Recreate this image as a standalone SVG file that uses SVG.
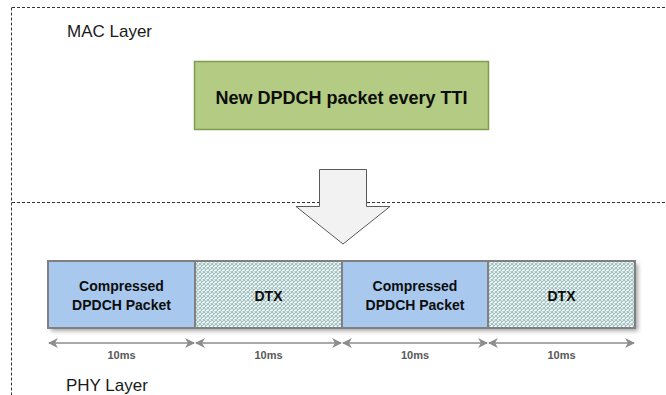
<svg xmlns="http://www.w3.org/2000/svg" width="666" height="395" viewBox="0 0 666 395">
<style>
.dash{stroke:#333333;stroke-width:1;stroke-dasharray:3 2;fill:none}
.layer{font-family:"Liberation Sans",Arial,sans-serif;font-size:17px;fill:#1a1a1a}
.bold{font-family:"Liberation Sans",Arial,sans-serif;font-weight:bold;fill:#0d0d0d;text-anchor:middle}
.seg{stroke:#808080;stroke-width:2}
.dim{stroke:#8c8c8c;stroke-width:1.6;fill:none;marker-start:url(#ah);marker-end:url(#ah)}
.ms{font-family:"Liberation Sans",Arial,sans-serif;font-weight:bold;font-size:11px;fill:#595959;text-anchor:middle}
</style>
<defs>
<pattern id="dots" width="4" height="4" patternUnits="userSpaceOnUse">
<rect width="4" height="4" fill="#ffffff"/>
<path d="M0 0L4 4M4 0L0 4" stroke="#9fc0c0" stroke-width="1.2"/>
</pattern>
<marker id="ah" viewBox="0 0 10 10" refX="9" refY="5" markerWidth="10" markerHeight="10" markerUnits="userSpaceOnUse" orient="auto-start-reverse">
<path d="M0 0L10 5L0 10L3 5Z" fill="#8c8c8c"/>
</marker>
<filter id="sh" x="-5%" y="-20%" width="115%" height="150%">
<feDropShadow dx="3" dy="3" stdDeviation="2" flood-color="#000" flood-opacity="0.35"/>
</filter>
</defs>
<g id="mac-layer">
<path class="dash" d="M12 7.5H666M11.5 7.5V395"/>
<text class="layer" x="67" y="37">MAC Layer</text>
</g>
<g id="phy-divider">
<path class="dash" d="M12 202.5H666"/>
<text class="layer" x="66" y="391">PHY Layer</text>
</g>
<g id="mac-box">
<rect x="194.5" y="61.5" width="294" height="68" fill="#b3cb82" stroke="#7f9d50" stroke-width="1.5"/>
<text class="bold" x="341.5" y="104" font-size="18">New DPDCH packet every TTI</text>
</g>
<g id="down-arrow">
<path d="M319.5 169.5H366.5V206.5H390L343 244L296 206.5H319.5Z" fill="#f2f2f2" stroke="#595959" stroke-width="1"/>
</g>
<g id="phy-row" filter="url(#sh)">
<rect x="48" y="261" width="587" height="67" fill="#fff"/>
</g>
<g id="seg1">
<rect class="seg" x="48" y="261" width="147" height="67" fill="#a8c8ee"/>
<text class="bold" font-size="14" x="121.5" y="291">Compressed</text>
<text class="bold" font-size="14" x="121.5" y="310">DPDCH Packet</text>
</g>
<g id="seg2">
<rect class="seg" x="195" y="261" width="147" height="67" fill="url(#dots)"/>
<text class="bold" font-size="14" x="268.5" y="301">DTX</text>
</g>
<g id="seg3">
<rect class="seg" x="342" y="261" width="146" height="67" fill="#a8c8ee"/>
<text class="bold" font-size="14" x="415" y="291">Compressed</text>
<text class="bold" font-size="14" x="415" y="310">DPDCH Packet</text>
</g>
<g id="seg4">
<rect class="seg" x="488" y="261" width="147" height="67" fill="url(#dots)"/>
<text class="bold" font-size="14" x="561.5" y="301">DTX</text>
</g>
<g id="connectors">
<path class="dim" d="M49 343H194"/>
<path class="dim" d="M196 343H341"/>
<path class="dim" d="M343 343H487"/>
<path class="dim" d="M489 343H634"/>
</g>
<g id="labels">
<text class="ms" x="121.5" y="359">10ms</text>
<text class="ms" x="268.5" y="359">10ms</text>
<text class="ms" x="415" y="359">10ms</text>
<text class="ms" x="561.5" y="359">10ms</text>
</g>
</svg>
